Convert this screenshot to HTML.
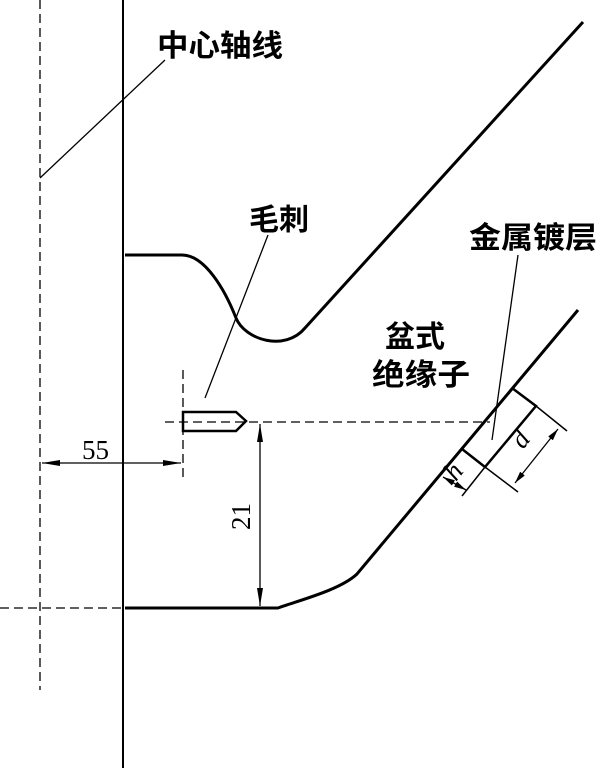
<!DOCTYPE html>
<html><head><meta charset="utf-8"><style>
html,body{margin:0;padding:0;background:#fff;}
svg{display:block}
text{font-family:"Liberation Sans","Noto Sans CJK SC",sans-serif;fill:#000}
text.s{font-family:"Liberation Serif",serif}
</style></head><body>
<svg width="600" height="768" viewBox="0 0 600 768" xmlns="http://www.w3.org/2000/svg">
<defs>
<marker id="a" viewBox="0 0 12 6" refX="12" refY="3" markerWidth="12" markerHeight="6" markerUnits="userSpaceOnUse" orient="auto-start-reverse"><path d="M0 0 L12 3 L0 6 Z" fill="#000"/></marker>
<marker id="b" viewBox="0 0 18 6" refX="18" refY="3" markerWidth="18" markerHeight="6" markerUnits="userSpaceOnUse" orient="auto-start-reverse"><path d="M0 0 L18 3 L0 6 Z" fill="#000"/></marker>
</defs>
<g stroke="#000" fill="none">
<line x1="123" y1="0" x2="123" y2="768" stroke-width="2"/>
<line x1="40" y1="0" x2="40" y2="690" stroke-width="1.3" stroke-dasharray="9,5"/>
<line x1="40" y1="178" x2="165" y2="60" stroke-width="1.3"/>
<path d="M125 255 H182 C205 255 225 290 236 318 C245 340 285 352 305 328 L583 22" stroke-width="3"/>
<path d="M578 310 L357 574 C340 590 300 600 278 608 H125" stroke-width="3"/>
<line x1="0" y1="608" x2="125" y2="608" stroke-width="1.3" stroke-dasharray="9,5"/>
<line x1="165" y1="422" x2="490" y2="422" stroke-width="1.3" stroke-dasharray="9,5"/>
<line x1="183" y1="370" x2="183" y2="482" stroke-width="1.3" stroke-dasharray="9,5"/>
<path d="M183 412 H236 L246 421 L236 431 H183 Z" stroke-width="2.5"/>
<line x1="205" y1="398" x2="268" y2="235" stroke-width="1.3"/>
<line x1="42" y1="463" x2="181" y2="463" stroke-width="1.3" marker-start="url(#b)" marker-end="url(#b)"/>
<line x1="260" y1="424" x2="260" y2="606" stroke-width="1.3" marker-start="url(#b)" marker-end="url(#b)"/>
<path d="M512 388 L536 406 L485 467 L462 449" stroke-width="2.5"/>
<line x1="536" y1="406" x2="567" y2="431" stroke-width="1.5"/>
<line x1="485" y1="467" x2="518" y2="492" stroke-width="1.5"/>
<line x1="558" y1="429" x2="515" y2="483" stroke-width="1.3" marker-start="url(#a)" marker-end="url(#a)"/>
<line x1="462" y1="449" x2="440" y2="475" stroke-width="1.5"/>
<line x1="485" y1="467" x2="462" y2="496" stroke-width="1.5"/>
<line x1="443" y1="477" x2="466" y2="490" stroke-width="1.3" marker-start="url(#a)" marker-end="url(#a)"/>
<line x1="518" y1="255" x2="492" y2="440" stroke-width="1.3"/>
</g>
<g font-weight="bold" font-size="30">
<text x="157" y="56" textLength="126" lengthAdjust="spacingAndGlyphs">中心轴线</text>
<text x="249" y="230">毛刺</text>
<text x="469" y="248" textLength="128" lengthAdjust="spacingAndGlyphs">金属镀层</text>
<text x="385" y="347">盆式</text>
<text x="372" y="385" textLength="98" lengthAdjust="spacingAndGlyphs">绝缘子</text>
</g>
<text class="s" x="82" y="459" font-size="27">55</text>
<text class="s" transform="translate(250,530) rotate(-90)" font-size="27">21</text>
<text class="s" transform="translate(523,450) rotate(-52)" font-size="27" font-style="italic">d</text>
<text class="s" transform="translate(456,482) rotate(-52)" font-size="27" font-style="italic">h</text>
</svg>
</body></html>
